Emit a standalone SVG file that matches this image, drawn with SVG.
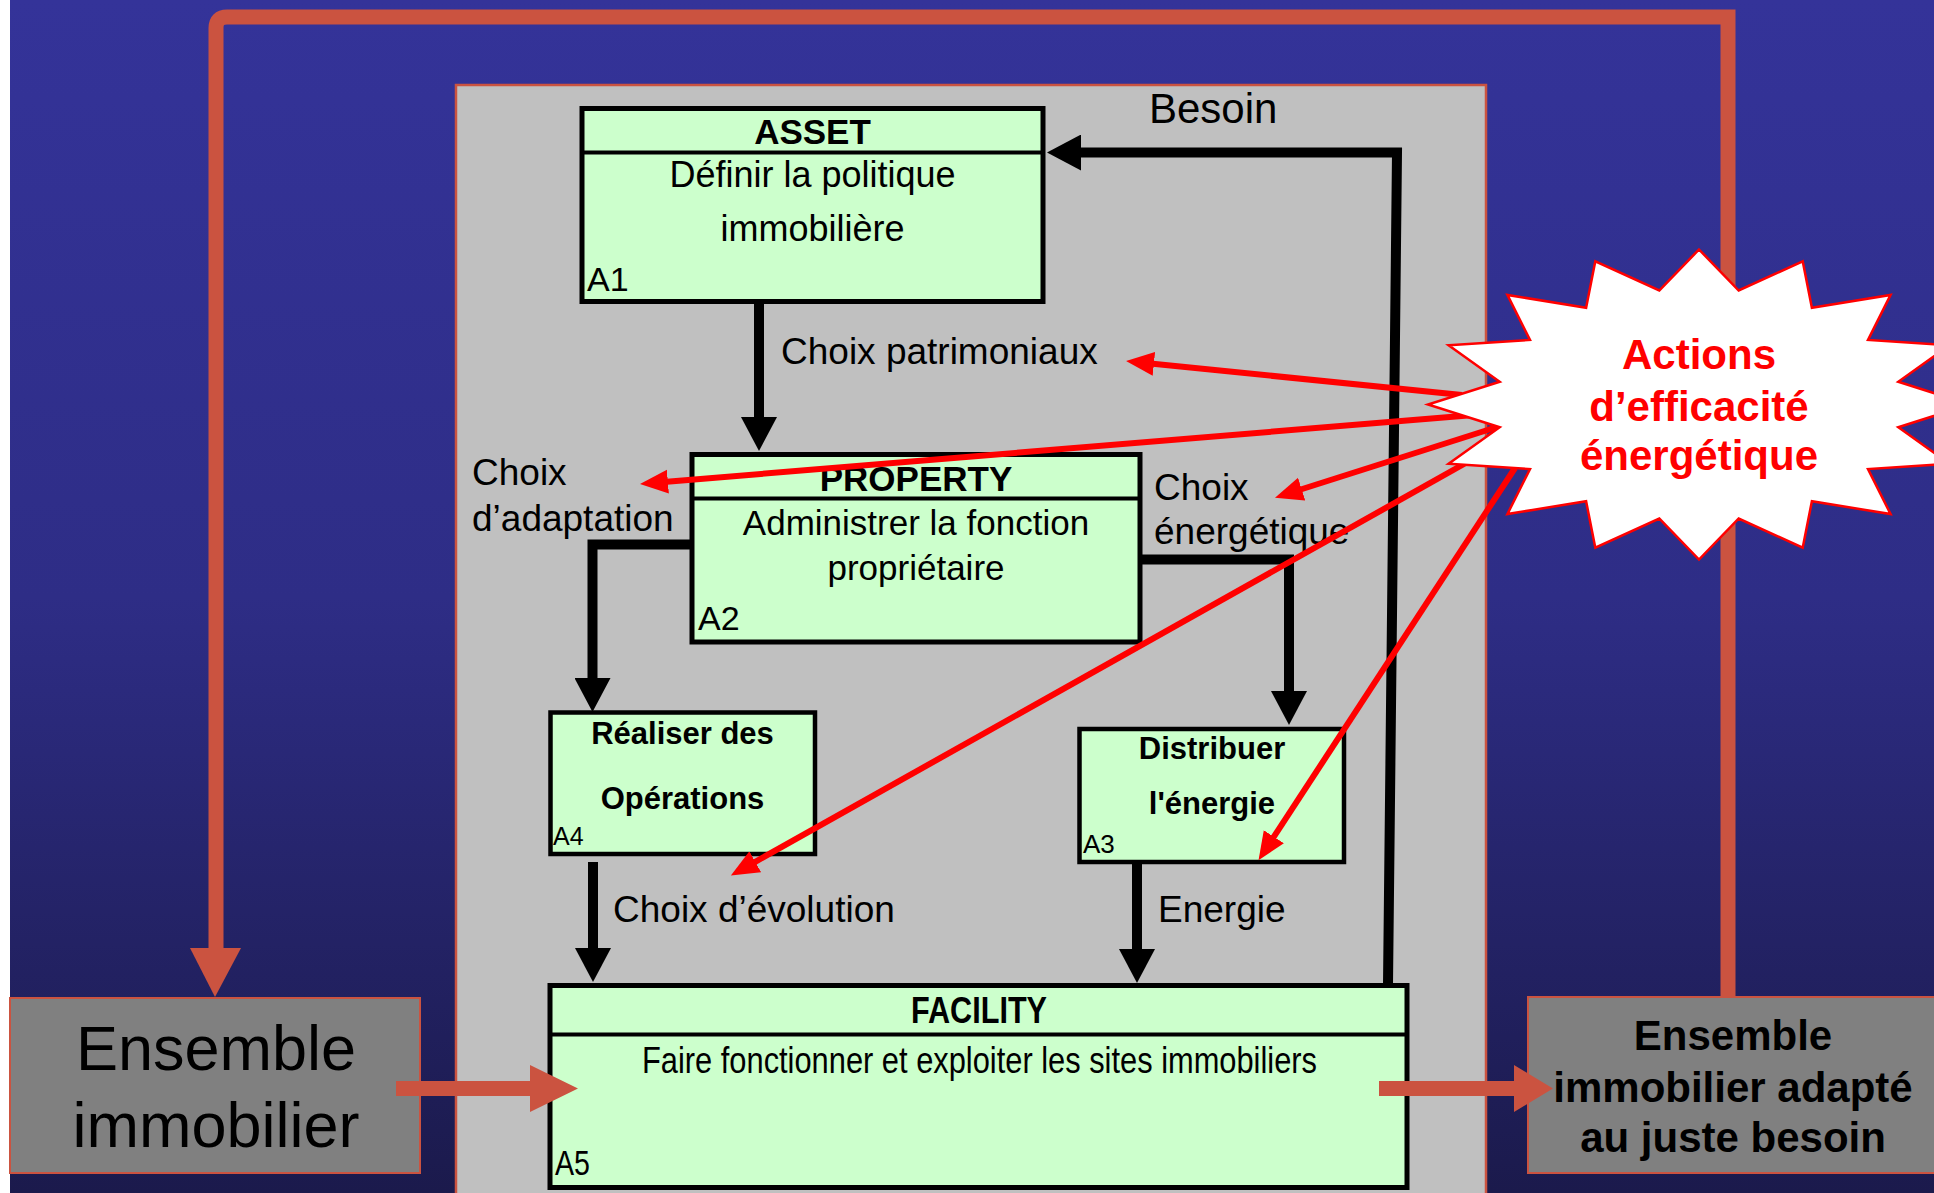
<svg xmlns="http://www.w3.org/2000/svg" width="1934" height="1193" viewBox="0 0 1934 1193">
<style>
.box{fill:#ccffcc;stroke:#000;stroke-width:5}
.div{stroke:#000;stroke-width:4}
.t{font-family:"Liberation Sans",Arial,sans-serif;fill:#000}
.b{font-weight:bold}
.conn{fill:none;stroke:#000;stroke-width:10;stroke-linejoin:miter}
.red{fill:none;stroke:#ff0000;stroke-width:6}
.gray{fill:#808080;stroke:#cb5340;stroke-width:2}
.org{fill:#cb5340}
</style>
<defs>
<linearGradient id="bg" x1="0" y1="0" x2="0" y2="1">
<stop offset="0" stop-color="#343399"/>
<stop offset="0.5" stop-color="#2e2d86"/>
<stop offset="1" stop-color="#1b1a4c"/>
</linearGradient>
<marker id="ah" markerUnits="userSpaceOnUse" markerWidth="36" markerHeight="36" refX="0" refY="18" orient="auto">
<path d="M0,0 L34,18 L0,36 z" fill="#000"/>
</marker>
<marker id="rh" markerUnits="userSpaceOnUse" markerWidth="30" markerHeight="26" refX="1" refY="12" orient="auto">
<path d="M0,0 L28,12 L0,24 z" fill="#ff0000"/>
</marker>
</defs>
<rect x="0" y="0" width="1934" height="1193" fill="#ffffff"/>
<rect x="10" y="0" width="1924" height="1193" fill="url(#bg)"/>
<g id="loop">
<path d="M216,950 V28 Q216,17 227,17 H1728 V997" fill="none" stroke="#cb5340" stroke-width="15"/>
<polygon class="org" points="190,948 241,948 215,997"/>
</g>
<rect id="panel" x="456" y="85" width="1030" height="1120" fill="#c0c0c0" stroke="#cb5340" stroke-width="2.5"/>
<g id="in">
<rect class="gray" x="10" y="998" width="410" height="175"/>
<text class="t" x="216" y="1070" font-size="63" text-anchor="middle">Ensemble</text>
<text class="t" x="216" y="1147" font-size="63" text-anchor="middle">immobilier</text>
</g>
<g id="out">
<rect class="gray" x="1528" y="997" width="420" height="176"/>
<text class="t b" x="1733" y="1050" font-size="42" text-anchor="middle">Ensemble</text>
<text class="t b" x="1733" y="1102" font-size="42" text-anchor="middle">immobilier adapté</text>
<text class="t b" x="1733" y="1152" font-size="42" text-anchor="middle">au juste besoin</text>
</g>
<g id="A1">
<rect class="box" x="582" y="108.5" width="461" height="193"/>
<line class="div" x1="582" y1="152.5" x2="1043" y2="152.5"/>
<text class="t b" x="812.5" y="144" font-size="35" text-anchor="middle">ASSET</text>
<text class="t" x="812.5" y="187" font-size="36" text-anchor="middle">Définir la politique</text>
<text class="t" x="812.5" y="241" font-size="36" text-anchor="middle">immobilière</text>
<text class="t" x="587" y="291" font-size="34">A1</text>
</g>
<g id="A2">
<rect class="box" x="692" y="454.5" width="448" height="187.5"/>
<line class="div" x1="692" y1="498.5" x2="1140" y2="498.5"/>
<text class="t b" x="916" y="491" font-size="35" text-anchor="middle">PROPERTY</text>
<text class="t" x="916" y="535" font-size="35" text-anchor="middle">Administrer la fonction</text>
<text class="t" x="916" y="580" font-size="35" text-anchor="middle">propriétaire</text>
<text class="t" x="698" y="630" font-size="34">A2</text>
</g>
<g id="A4">
<rect class="box" x="550.5" y="712.5" width="264.5" height="141.5" style="stroke-width:4.5"/>
<text class="t b" x="682.5" y="744" font-size="31" text-anchor="middle">Réaliser des</text>
<text class="t b" x="682.5" y="809" font-size="31" text-anchor="middle">Opérations</text>
<text class="t" x="553" y="845" font-size="25">A4</text>
</g>
<g id="A3">
<rect class="box" x="1079.5" y="729" width="264.5" height="133" style="stroke-width:4.5"/>
<text class="t b" x="1212" y="759" font-size="31" text-anchor="middle">Distribuer</text>
<text class="t b" x="1212" y="814" font-size="31" text-anchor="middle">l'énergie</text>
<text class="t" x="1083" y="853" font-size="26">A3</text>
</g>
<g id="A5">
<rect class="box" x="550" y="985.5" width="857" height="202"/>
<line class="div" x1="550" y1="1034.5" x2="1407" y2="1034.5"/>
<text class="t b" x="911" y="1023" font-size="37" textLength="136" lengthAdjust="spacingAndGlyphs">FACILITY</text>
<text class="t" x="642" y="1073" font-size="37" textLength="675" lengthAdjust="spacingAndGlyphs">Faire fonctionner et exploiter les sites immobiliers</text>
<text class="t" x="555" y="1175" font-size="35" textLength="35" lengthAdjust="spacingAndGlyphs">A5</text>
</g>
<g id="connectors">
<line class="conn" x1="759" y1="304" x2="759" y2="417" marker-end="url(#ah)"/>
<path class="conn" d="M692,544.5 H592.5 V678" marker-end="url(#ah)"/>
<path class="conn" d="M1140,559.5 H1289 V691" marker-end="url(#ah)"/>
<line class="conn" x1="593" y1="862" x2="593" y2="948" marker-end="url(#ah)"/>
<line class="conn" x1="1137" y1="862" x2="1137" y2="949" marker-end="url(#ah)"/>
<path class="conn" d="M1388,985 L1397,152.5 H1081" marker-end="url(#ah)"/>
<polygon class="org" points="396,1081 530,1081 530,1065 578,1088.5 530,1112 530,1096 396,1096"/>
<polygon class="org" points="1379,1081 1514,1081 1514,1065 1553,1088.5 1514,1112 1514,1096 1379,1096"/>
</g>
<g id="labels">
<text class="t" x="1149" y="123" font-size="42">Besoin</text>
<text class="t" x="781" y="364" font-size="37">Choix patrimoniaux</text>
<text class="t" x="472" y="485" font-size="37">Choix</text>
<text class="t" x="472" y="531" font-size="37">d’adaptation</text>
<text class="t" x="1154" y="500" font-size="37">Choix</text>
<text class="t" x="1154" y="544" font-size="37">énergétique</text>
<text class="t" x="613" y="922" font-size="37">Choix d’évolution</text>
<text class="t" x="1158" y="922" font-size="37">Energie</text>
</g>
<g id="actions-arrows">
<line class="red" x1="1462" y1="395" x2="1152.9" y2="363.8" marker-end="url(#rh)"/>
<line class="red" x1="1474" y1="415" x2="666.9" y2="481.7" marker-end="url(#rh)"/>
<line class="red" x1="1497" y1="427" x2="1300.7" y2="489.5" marker-end="url(#rh)"/>
<line class="red" x1="1480" y1="455" x2="754.4" y2="862.3" marker-end="url(#rh)"/>
<line class="red" x1="1515" y1="468" x2="1273.3" y2="837.6" marker-end="url(#rh)"/>
</g>
<g id="actions">
<polygon fill="#ffffff" stroke="#ff0000" stroke-width="2.5" points="1699,249.5 1738.7,290.5 1802.7,261.3 1811.9,307.8 1890.6,294.9 1868,339.9 1949.4,345.2 1898.3,381.8 1970,404.5 1898.3,427.2 1949.4,463.8 1868,469.1 1890.6,514.1 1811.9,501.2 1802.7,547.7 1738.7,518.5 1699,559.5 1659.3,518.5 1595.3,547.7 1586.1,501.2 1507.4,514.1 1530,469.1 1448.6,463.8 1499.7,427.2 1428,404.5 1499.7,381.8 1448.6,345.2 1530,339.9 1507.4,294.9 1586.1,307.8 1595.3,261.3 1659.3,290.5"/>
<text class="t b" x="1699" y="369" font-size="42" text-anchor="middle" style="fill:#ff0000">Actions</text>
<text class="t b" x="1699" y="421" font-size="42" text-anchor="middle" style="fill:#ff0000">d’efficacité</text>
<text class="t b" x="1699" y="470" font-size="42" text-anchor="middle" style="fill:#ff0000">énergétique</text>
</g>
</svg>
